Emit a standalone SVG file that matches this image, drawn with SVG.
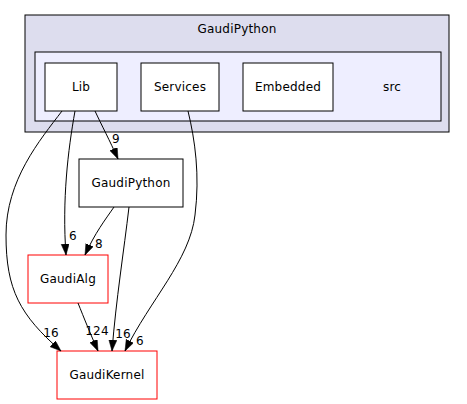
<svg xmlns="http://www.w3.org/2000/svg" width="467" height="404" viewBox="0 0 467 404">
<style>
text{font-family:"DejaVu Sans",sans-serif;font-size:12px;letter-spacing:0.2px;fill:#000;text-anchor:middle}
.box{fill:#fff;stroke:#000;stroke-width:1}
.red{fill:#fff;stroke:#ff0000;stroke-width:1}
.edge{fill:none;stroke:#000;stroke-width:1;marker-end:url(#ah)}
</style>
<defs>
<marker id="ah" markerUnits="userSpaceOnUse" markerWidth="12" markerHeight="9" refX="11" refY="4" orient="auto">
<path d="M0,0 L11,4 L0,8 z" fill="#000" stroke="#000" stroke-width="0.5"/>
</marker>
</defs>
<rect width="467" height="404" fill="#fff"/>
<g id="cluster_GaudiPython">
<rect x="25" y="15" width="424" height="117" fill="#ddddee" stroke="#000"/>
<text x="237" y="33">GaudiPython</text>
</g>
<g id="cluster_src">
<rect x="35" y="52" width="406" height="69" fill="#eeeeff" stroke="#000"/>
<text x="392" y="91">src</text>
</g>
<g id="node_Lib">
<rect class="box" x="45" y="63" width="72" height="48"/>
<text x="81" y="91">Lib</text>
</g>
<g id="node_Services">
<rect class="box" x="141" y="63" width="78" height="48"/>
<text x="180" y="91">Services</text>
</g>
<g id="node_Embedded">
<rect class="box" x="243" y="63" width="90" height="48"/>
<text x="288" y="91">Embedded</text>
</g>
<g id="node_GaudiPython">
<rect class="box" x="79" y="159" width="104" height="48"/>
<text x="131" y="187">GaudiPython</text>
</g>
<g id="node_GaudiAlg">
<rect class="red" x="28" y="255" width="80" height="48"/>
<text x="68" y="283">GaudiAlg</text>
</g>
<g id="node_GaudiKernel">
<rect class="red" x="57" y="351" width="100" height="48"/>
<text x="107" y="379">GaudiKernel</text>
</g>
<g id="connectors">
<path class="edge" d="M95,111 C101,124 110,141 118,159"/>
<text x="116" y="143">9</text>
<path class="edge" d="M75,111 C68,150 62,200 66,255"/>
<text x="73" y="240">6</text>
<path class="edge" d="M62,111 C40,140 6,180 6,235 C6,290 20,315 61,351"/>
<text x="51" y="337">16</text>
<path class="edge" d="M114,207 C105,220 95,233 85,255"/>
<text x="99" y="248">8</text>
<path class="edge" d="M129,207 C124,250 116,300 112,351"/>
<text x="123" y="338">16</text>
<path class="edge" d="M188,111 C195,140 200,175 195,215 C190,260 150,300 125,351"/>
<text x="140" y="345">6</text>
<path class="edge" d="M78,303 C84,318 90,333 98,351"/>
<text x="97" y="335">124</text>
</g>
</svg>
